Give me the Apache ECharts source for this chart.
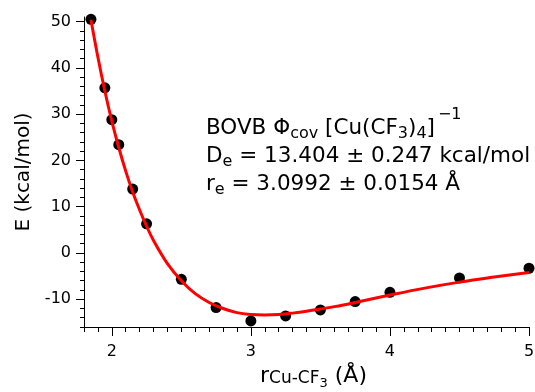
<!DOCTYPE html>
<html><head><meta charset="utf-8">
<script src="https://cdn.jsdelivr.net/npm/echarts@6/dist/echarts.min.js"></script>
<style>html,body{margin:0;padding:0;background:#fff}#c{width:535px;height:392px}</style>
</head><body><div id="c"></div>
<script>
// Data points (r in Å, E in kcal/mol)
const pointR = [1.85, 1.95, 2.0, 2.05, 2.15, 2.25, 2.5, 2.75, 3.0, 3.25, 3.5, 3.75, 4.0, 4.5, 5.0];
const pointE = [50.5, 35.7, 28.8, 23.4, 13.8, 6.3, -5.7, -11.8, -14.7, -13.6, -12.3, -10.5, -8.5, -5.4, -3.3];
// Fitted curve
const fitR = [1.85, 1.9, 1.95, 2.0, 2.05, 2.1, 2.15, 2.2, 2.25, 2.3, 2.4, 2.5, 2.6, 2.7, 2.8, 2.9, 3.0, 3.1, 3.2, 3.3, 3.4, 3.5, 3.6, 3.75, 4.0, 4.25, 4.5, 4.75, 5.0];
const fitE = [50.4, 42.3, 35.0, 28.5, 22.8, 17.7, 13.2, 9.3, 5.8, 2.7, -2.3, -6.0, -8.8, -10.7, -12.0, -12.9, -13.3, -13.4, -13.3, -13.0, -12.6, -12.1, -11.6, -10.7, -9.1, -7.6, -6.3, -5.2, -4.2];
// Tick values
const xMajorTicks = [2, 3, 4, 5];
const xMinorTicks = [1.8, 1.9, 2.0, 2.1, 2.2, 2.3, 2.4, 2.5, 2.6, 2.7, 2.8, 2.9, 3.0, 3.1, 3.2, 3.3, 3.4, 3.5, 3.6, 3.7, 3.8, 3.9, 4.0, 4.1, 4.2, 4.3, 4.4, 4.5, 4.6, 4.7, 4.8, 4.9, 5.0];
const yMajorTicks = [-10, 0, 10, 20, 30, 40, 50];
const yMinorTicks = [-16, -14, -12, -10, -8, -6, -4, -2, 0, 2, 4, 6, 8, 10, 12, 14, 16, 18, 20, 22, 24, 26, 28, 30, 32, 34, 36, 38, 40, 42, 44, 46, 48, 50];
const annotationLines = [
  '{n|BOVB Φ}{s|cov}{n| [Cu(CF}{s|3}{n|)}{s|4}{n|]}{p|−1}',
  '{n|D}{s|e}{n| = 13.404 ± 0.247 kcal/mol}',
  '{n|r}{s|e}{n| = 3.0992 ± 0.0154 Å}'
];

const F = 'DejaVu Sans';
const chart = echarts.init(document.getElementById('c'), null, {renderer: 'canvas'});
const X = {min: 1.8, max: 5}, Y = {min: -16, max: 51};
const annRich = {
  n: {fontSize: 21.5, fontFamily: F, fill: '#000', lineHeight: 24, padding: [0, 0, 6, 0], verticalAlign: 'bottom'},
  s: {fontSize: 16, fontFamily: F, fill: '#000', lineHeight: 16, padding: [0, 0, 3, 0], verticalAlign: 'bottom'},
  p: {fontSize: 16, fontFamily: F, fill: '#000', lineHeight: 16, padding: [0, 0, 22, 3], verticalAlign: 'bottom'}
};
const baseY = [145, 173, 201];
chart.setOption({
  animation: false,
  grid: {left: 84, right: 6, top: 17, bottom: 65, containLabel: false, outerBoundsMode: 'none'},
  xAxis: [{
    type: 'value', min: X.min, max: X.max, position: 'bottom',
    axisLine: {show: true, onZero: false, lineStyle: {color: '#000', width: 1}},
    axisTick: {show: true, customValues: xMajorTicks, length: 9, lineStyle: {color: '#000', width: 1}},
    axisLabel: {customValues: xMajorTicks, margin: 17, fontSize: 16, fontFamily: F, color: '#000'},
    splitLine: {show: false},
    name: '{n|r}{s|Cu-CF}{t|3}{n| (Å)}', nameLocation: 'middle', nameGap: 36,
    nameTextStyle: {padding: [0, 0, 0, 14], rich: {
      n: {fontSize: 22, fontFamily: F, color: '#000', lineHeight: 26, padding: [0, 0, 6, 0], verticalAlign: 'bottom'},
      s: {fontSize: 17, fontFamily: F, color: '#000', lineHeight: 17, padding: [0, 0, 6, 0], verticalAlign: 'bottom'},
      t: {fontSize: 13, fontFamily: F, color: '#000', lineHeight: 13, padding: [0, 0, 3, 0], verticalAlign: 'bottom'}
    }}
  }, {
    type: 'value', min: X.min, max: X.max, position: 'bottom',
    axisLine: {show: false, onZero: false},
    axisTick: {show: true, customValues: xMinorTicks, length: 5, lineStyle: {color: '#000', width: 1}},
    axisLabel: {show: false}, splitLine: {show: false}
  }],
  yAxis: [{
    type: 'value', min: Y.min, max: Y.max, position: 'left',
    axisLine: {show: true, onZero: false, lineStyle: {color: '#000', width: 1}},
    axisTick: {show: true, customValues: yMajorTicks, length: 8, lineStyle: {color: '#000', width: 1}},
    axisLabel: {customValues: yMajorTicks, margin: 13, fontSize: 16, fontFamily: F, color: '#000'},
    splitLine: {show: false},
    name: 'E (kcal/mol)', nameLocation: 'middle', nameGap: 50,
    nameTextStyle: {fontSize: 20, fontFamily: F, color: '#000'}
  }, {
    type: 'value', min: Y.min, max: Y.max, position: 'left',
    axisLine: {show: false, onZero: false},
    axisTick: {show: true, customValues: yMinorTicks, length: 4, lineStyle: {color: '#000', width: 1}},
    axisLabel: {show: false}, splitLine: {show: false}
  }],
  series: [{
    type: 'scatter', xAxisIndex: 0, yAxisIndex: 0,
    data: pointR.map((r, i) => [r, pointE[i]]),
    symbol: 'circle', symbolSize: 11, itemStyle: {color: '#000', opacity: 1}, z: 2
  }, {
    type: 'line', xAxisIndex: 0, yAxisIndex: 0,
    data: fitR.map((r, i) => [r, fitE[i]]),
    smooth: 0.4, showSymbol: false, symbol: 'none',
    lineStyle: {color: '#ff0000', width: 3}, z: 3
  }],
  graphic: annotationLines.map((t, i) => ({
    type: 'text', x: 206, y: baseY[i], z: 10,
    style: {text: t, rich: annRich, align: 'left', verticalAlign: 'bottom', fontFamily: F, fontSize: 21.5, fill: '#000'}
  }))
});
</script></body></html>
